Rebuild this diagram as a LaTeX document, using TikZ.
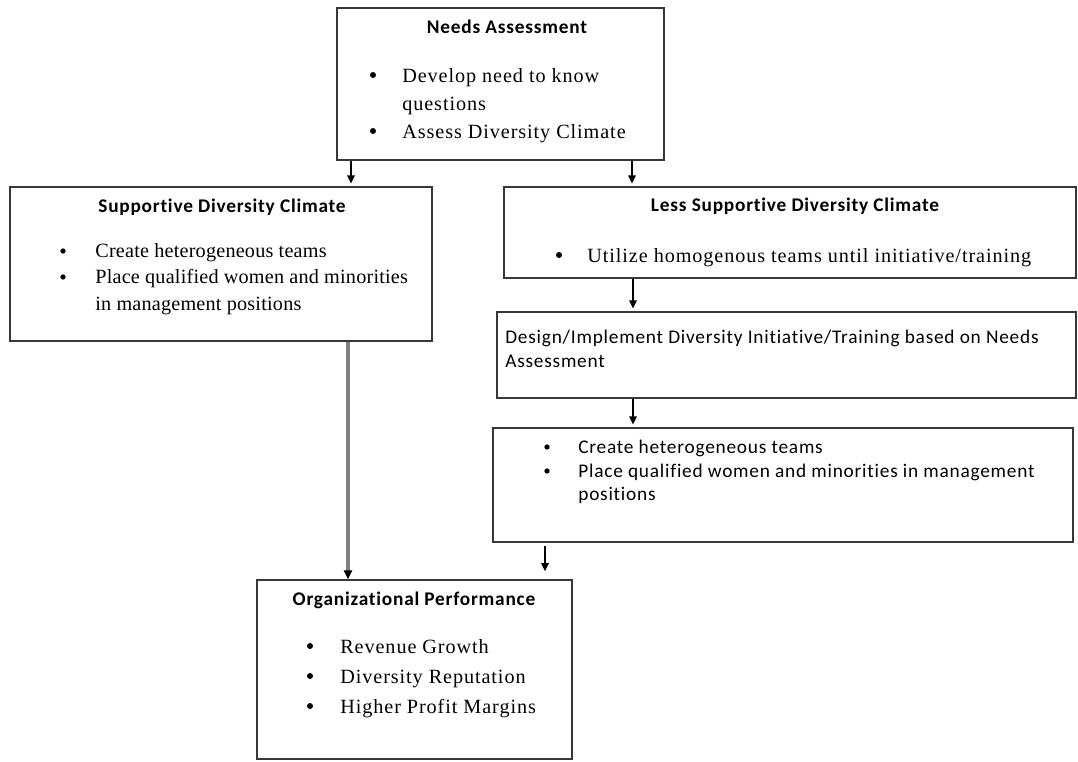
\documentclass[tikz,border=0pt]{standalone}
\usepackage{fontspec}
\setmainfont{Liberation Serif}
\newfontfamily\serwide{Liberation Serif}[LetterSpace=4.5]
\newfontfamily\sernarrow{Liberation Serif}[LetterSpace=1]
\newfontfamily\calibri{Carlito}[LetterSpace=4, Ligatures=NoCommon]
\usetikzlibrary{arrows.meta,fit}

\begin{document}
\begin{tikzpicture}[
    x=0.02cm, y=-0.02cm,
    >={Triangle[width=4.2pt,length=4.6pt]},
    box/.style={draw=black!78, line width=0.9pt, inner sep=0pt},
    head/.style={anchor=base, inner sep=0pt, font=\calibri\bfseries\fontsize{11}{13}\selectfont},
    item/.style={anchor=base west, inner sep=0pt, font=\serwide\fontsize{11.5}{14}\selectfont},
    itemn/.style={anchor=base west, inner sep=0pt, font=\sernarrow\fontsize{11.5}{14}\selectfont},
    itemc/.style={anchor=base west, inner sep=0pt, font=\calibri\fontsize{11}{13}\selectfont},
    dot/.style={circle, fill=black, inner sep=0pt, minimum size=3.4pt},
    arr/.style={->, line width=0.75pt, shorten >=1.5pt}
]
\useasboundingbox[fill=white] (0,0) rectangle (1078,761);

% ============================================================
% Kaesten
% ============================================================
\node[box, fit={(337,8) (664,160)}] (needs) {};
\node[box, fit={(10,187) (432,341)}] (sup) {};
\node[box, fit={(504,187) (1076,278)}] (less) {};
\node[box, fit={(497,312) (1076,398)}] (design) {};
\node[box, fit={(493,428) (1073,542)}] (teams) {};
\node[box, fit={(257,580) (572,759)}] (perf) {};

% ============================================================
% Needs Assessment
% ============================================================
\node[head] (needsT) at (507,33) {Needs Assessment};
\node[dot] (nd1) at (373,75) {};
\node[item] (na1) at (402,82) {Develop need to know};
\node[item] (na2) at (402,110) {questions};
\node[dot] (nd2) at (373,131) {};
\node[item] (na3) at (402,138) {Assess Diversity Climate};

% ============================================================
% Supportive Diversity Climate
% ============================================================
\node[head] (supT) at (222,212) {Supportive Diversity Climate};
\node[dot, minimum size=3pt] (sd1) at (63,251) {};
\node[itemn] (sa1) at (95,257) {Create heterogeneous teams};
\node[dot, minimum size=3pt] (sd2) at (63,277) {};
\node[itemn] (sa2) at (95,283) {Place qualified women and minorities};
\node[itemn] (sa3) at (95,310) {in management positions};

% ============================================================
% Less Supportive Diversity Climate
% ============================================================
\node[head] (lessT) at (795,211) {Less Supportive Diversity Climate};
\node[dot] (ld1) at (559,255) {};
\node[item] (la1) at (587,262) {Utilize homogenous teams until initiative/training};

% Initiative / Training
\node[itemc] (de1) at (505,343) {Design/Implement Diversity Initiative/Training based on Needs};
\node[itemc] (de2) at (505,367) {Assessment};

% heterogene Teams
\node[dot, minimum size=3pt] (td1) at (547,447) {};
\node[itemc] (ta1) at (578,453) {Create heterogeneous teams};
\node[dot, minimum size=3pt] (td2) at (547,471) {};
\node[itemc] (ta2) at (578,477) {Place qualified women and minorities in management};
\node[itemc] (ta3) at (578,500) {positions};

% ============================================================
% Organizational Performance
% ============================================================
\node[head] (perfT) at (414,605) {Organizational Performance};
\node[dot] (pd1) at (310,646) {};
\node[item] (pa1) at (340,653) {Revenue Growth};
\node[dot] (pd2) at (310,676) {};
\node[item] (pa2) at (340,683) {Diversity Reputation};
\node[dot] (pd3) at (310,706) {};
\node[item] (pa3) at (340,713) {Higher Profit Margins};

% ============================================================
% Pfeile
% ============================================================
\coordinate (xA) at (351,0);
\coordinate (xB) at (632,0);
\coordinate (xC) at (633,0);
\coordinate (xD) at (545,0);
\coordinate (xE) at (348,0);

\draw[arr] (needs.south -| xA) -- (sup.north -| xA);
\draw[arr] (needs.south -| xB) -- (less.north -| xB);
\draw[arr] (less.south -| xC) -- (design.north -| xC);
\draw[arr] (design.south -| xC) -- (teams.north -| xC);
\draw[arr, shorten <=1.7pt, shorten >=4.5pt] (teams.south -| xD) -- (perf.north -| xD);
\draw[gray, line width=1.8pt, -{Triangle[width=4.6pt,length=5pt,color=black]}]
    (sup.south -| xE) -- (perf.north -| xE);

\end{tikzpicture}
\end{document}
